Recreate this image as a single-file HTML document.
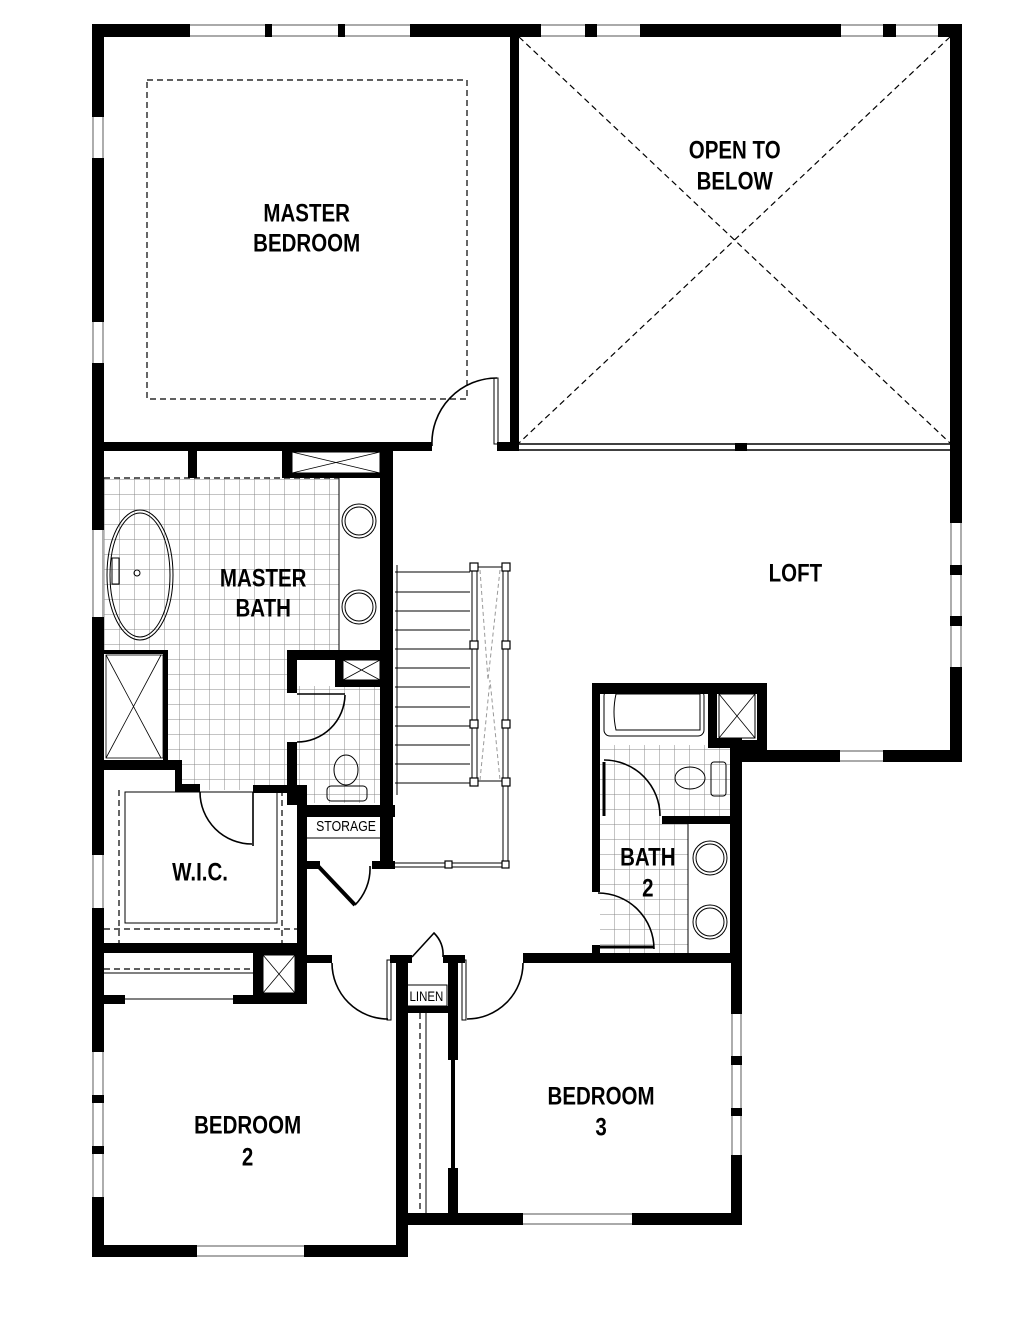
<!DOCTYPE html>
<html><head><meta charset="utf-8"><style>
html,body{margin:0;padding:0;background:#fff}
svg{display:block}
text{font-family:"Liberation Sans",sans-serif;fill:#000;text-anchor:middle;dominant-baseline:central}
</style></head><body>
<svg width="1028" height="1320" viewBox="0 0 1028 1320" xmlns="http://www.w3.org/2000/svg">
<defs>
<pattern id="tile" width="15" height="15" patternUnits="userSpaceOnUse">
<path d="M15 0V15M0 15H15" stroke="#888" stroke-width="1" fill="none"/>
</pattern>
</defs>
<polygon points="104,478 339,478 339,650 287,650 287,693 297,693 297,742 287,742 287,790 200,790 180,790 180,770 168,770 168,652 104,652" fill="url(#tile)"/>
<rect x="297" y="686" width="83" height="117" fill="url(#tile)"/>
<rect x="600" y="745" width="130" height="208" fill="url(#tile)"/>
<rect x="688" y="824" width="42" height="129" fill="#fff"/>

<g stroke="#777" stroke-width="1.2" fill="none">
<line x1="92" y1="25" x2="962" y2="25"/><line x1="92" y1="36" x2="962" y2="36"/>
<line x1="93" y1="24" x2="93" y2="1257"/><line x1="103" y1="24" x2="103" y2="1257"/>
<line x1="951" y1="24" x2="951" y2="762"/><line x1="961" y1="24" x2="961" y2="762"/>
<line x1="742" y1="751" x2="962" y2="751"/><line x1="742" y1="761" x2="962" y2="761"/>
<line x1="732" y1="750" x2="732" y2="1225"/><line x1="741" y1="750" x2="741" y2="1225"/>
<line x1="396" y1="1214" x2="742" y2="1214"/><line x1="396" y1="1224" x2="742" y2="1224"/>
<line x1="92" y1="1246" x2="408" y2="1246"/><line x1="92" y1="1256" x2="408" y2="1256"/>
</g>

<g fill="#000">
<rect x="92" y="24" width="98" height="13"/><rect x="265" y="24" width="7" height="13"/>
<rect x="338" y="24" width="7" height="13"/><rect x="410" y="24" width="131" height="13"/>
<rect x="585" y="24" width="12" height="13"/><rect x="640" y="24" width="201" height="13"/>
<rect x="883" y="24" width="13" height="13"/><rect x="938" y="24" width="24" height="13"/>
<rect x="92" y="24" width="12" height="93"/><rect x="92" y="158" width="12" height="164"/>
<rect x="92" y="363" width="12" height="167"/><rect x="92" y="617" width="12" height="238"/>
<rect x="92" y="908" width="12" height="144"/><rect x="92" y="1095" width="12" height="8"/>
<rect x="92" y="1146" width="12" height="8"/><rect x="92" y="1197" width="12" height="60"/>
<rect x="950" y="24" width="12" height="499"/><rect x="950" y="565" width="12" height="10"/>
<rect x="950" y="616" width="12" height="10"/><rect x="950" y="667" width="12" height="95"/>
<rect x="742" y="750" width="98" height="12"/><rect x="883" y="750" width="79" height="12"/>
<rect x="510" y="37" width="9" height="413"/>
<rect x="92" y="442" width="340" height="9"/><rect x="497" y="442" width="22" height="9"/>
<rect x="188" y="450" width="9" height="28"/>
<rect x="282" y="443" width="111" height="35"/>
<rect x="380" y="443" width="13" height="424"/>
<rect x="163" y="652" width="5" height="108"/><rect x="104" y="650" width="64" height="4"/>
<rect x="92" y="760" width="88" height="10"/><rect x="175" y="760" width="7" height="32"/>
<rect x="175" y="784" width="25" height="8"/><rect x="253" y="785" width="54" height="8"/>
<rect x="297" y="785" width="10" height="219"/>
<rect x="287" y="650" width="10" height="43"/><rect x="287" y="650" width="106" height="10"/>
<rect x="335" y="655" width="8" height="31"/><rect x="335" y="680" width="58" height="7"/>
<rect x="287" y="742" width="10" height="63"/>
<rect x="297" y="805" width="98" height="12"/>
<rect x="307" y="861" width="13" height="8"/><rect x="372" y="861" width="23" height="8"/>
<rect x="92" y="943" width="215" height="10"/>
<rect x="253" y="953" width="44" height="42" />
<rect x="104" y="995" width="21" height="9"/><rect x="233" y="995" width="74" height="9"/>
<rect x="307" y="955" width="25" height="8"/><rect x="390" y="955" width="22" height="8"/>
<rect x="443" y="955" width="22" height="8"/><rect x="523" y="953" width="219" height="10"/>
<rect x="396" y="957" width="12" height="300"/>
<rect x="408" y="1006" width="40" height="7"/>
<rect x="448" y="963" width="10" height="97"/><rect x="451" y="1060" width="4" height="108"/>
<rect x="448" y="1168" width="10" height="45"/>
<rect x="396" y="1213" width="127" height="12"/><rect x="632" y="1213" width="110" height="12"/>
<rect x="92" y="1245" width="105" height="12"/><rect x="304" y="1245" width="104" height="12"/>
<rect x="731" y="750" width="11" height="264"/><rect x="731" y="1056" width="11" height="9"/>
<rect x="731" y="1108" width="11" height="8"/><rect x="731" y="1155" width="11" height="70"/>
<rect x="592" y="683" width="8" height="209"/><rect x="592" y="945" width="8" height="18"/>
<rect x="592" y="683" width="175" height="11"/><rect x="757" y="683" width="10" height="67"/>
<rect x="708" y="694" width="9" height="46"/><rect x="708" y="738" width="34" height="10"/>
<rect x="730" y="738" width="12" height="225"/><rect x="662" y="816" width="68" height="8"/>
<rect x="742" y="740" width="25" height="10"/>
</g>

<g fill="#fff" stroke="#000" stroke-width="1">
<rect x="292" y="452" width="88" height="21"/>
<rect x="343" y="660" width="37" height="20"/>
<rect x="263" y="955" width="32" height="38"/>
<rect x="719" y="694" width="36" height="44"/>
</g>
<g stroke="#000" stroke-width="0.8" fill="none">
<path d="M292 452L380 473M292 473L380 452"/>
<path d="M343 660L380 680M343 680L380 660"/>
<path d="M263 955L295 993M263 993L295 955"/>
<path d="M719 694L755 738M719 738L755 694"/>
<path d="M106 655L161 758M106 758L161 655"/>
<rect x="106" y="655" width="57" height="103"/>
</g>

<g fill="none" stroke="#000" stroke-width="1.2" stroke-dasharray="6,4">
<rect x="147" y="80" width="320" height="319"/>
<line x1="519" y1="37" x2="950" y2="443"/><line x1="950" y1="37" x2="519" y2="443"/>
<line x1="104" y1="478" x2="339" y2="478"/>
<line x1="420" y1="1013" x2="420" y2="1213"/>
<line x1="119" y1="790" x2="119" y2="943"/><line x1="282" y1="790" x2="282" y2="943"/>
<line x1="104" y1="929" x2="297" y2="929"/>
<line x1="104" y1="969" x2="253" y2="969"/>
</g>
<g stroke="#000" fill="none" stroke-width="1.5">
<line x1="519" y1="444" x2="950" y2="444"/><line x1="519" y1="450" x2="950" y2="450"/>
</g>
<rect x="735" y="443" width="12" height="8" fill="#000"/>

<g stroke="#000" stroke-width="1" fill="none">
<line x1="339" y1="478" x2="339" y2="650"/>
<line x1="104" y1="973" x2="253" y2="973"/>
<line x1="125" y1="999" x2="233" y2="999"/>
<rect x="125" y="792" width="152" height="131"/>
<line x1="426" y1="1013" x2="426" y2="1213"/>
<rect x="406" y="985" width="41" height="21"/>
<line x1="307" y1="838" x2="380" y2="838"/>
<line x1="688" y1="824" x2="688" y2="953"/>
<ellipse cx="140" cy="575" rx="33" ry="65"/><ellipse cx="140" cy="575" rx="30" ry="62"/>
<rect x="112" y="558" width="7" height="26"/><circle cx="137" cy="573" r="3"/>
<circle cx="359" cy="521" r="17"/><circle cx="359" cy="521" r="14"/>
<circle cx="359" cy="607" r="17"/><circle cx="359" cy="607" r="14"/>
<circle cx="710" cy="858" r="17"/><circle cx="710" cy="858" r="14"/>
<circle cx="710" cy="922" r="17"/><circle cx="710" cy="922" r="14"/>
<ellipse cx="346" cy="770" rx="12" ry="15"/><rect x="327" y="786" width="40" height="15" rx="4"/>
<ellipse cx="690" cy="778" rx="15" ry="11"/><rect x="711" y="762" width="15" height="34" rx="3"/>
<rect x="604" y="690" width="100" height="46" rx="6"/>
<path d="M616 694H700V730H616Q612 712 616 694Z"/>
<line x1="397" y1="565" x2="397" y2="795"/>
<line x1="395" y1="572" x2="470" y2="572"/><line x1="395" y1="592" x2="470" y2="592"/>
<line x1="395" y1="611" x2="470" y2="611"/><line x1="395" y1="630" x2="470" y2="630"/>
<line x1="395" y1="649" x2="470" y2="649"/><line x1="395" y1="668" x2="470" y2="668"/>
<line x1="395" y1="687" x2="470" y2="687"/><line x1="395" y1="707" x2="470" y2="707"/>
<line x1="395" y1="726" x2="470" y2="726"/><line x1="395" y1="745" x2="470" y2="745"/>
<line x1="395" y1="764" x2="470" y2="764"/><line x1="395" y1="783" x2="470" y2="783"/>
<line x1="472" y1="565" x2="472" y2="783"/><line x1="477" y1="565" x2="477" y2="783"/>
<line x1="503" y1="565" x2="503" y2="866"/><line x1="508" y1="565" x2="508" y2="866"/>
<line x1="472" y1="567" x2="508" y2="567"/><line x1="472" y1="781" x2="508" y2="781"/>
<line x1="395" y1="863" x2="508" y2="863"/><line x1="395" y1="867" x2="508" y2="867"/>
<path d="M480 570L488 680L500 570M480 780L490 680L500 780" stroke="#999" stroke-dasharray="4,3"/>
</g>
<g fill="#fff" stroke="#000" stroke-width="1.2">
<rect x="470" y="563" width="8" height="8"/><rect x="502" y="563" width="8" height="8"/>
<rect x="470" y="641" width="8" height="8"/><rect x="502" y="641" width="8" height="8"/>
<rect x="470" y="720" width="8" height="8"/><rect x="502" y="720" width="8" height="8"/>
<rect x="470" y="778" width="8" height="8"/><rect x="502" y="778" width="8" height="8"/>
<rect x="445" y="861" width="7" height="7"/><rect x="502" y="861" width="7" height="7"/>
</g>

<g stroke="#000" stroke-width="1.6" fill="none">
<path d="M432 446A65 65 0 0 1 497 378"/><rect x="494" y="378" width="4" height="66" stroke-width="1"/>
<path d="M345 695A48 48 0 0 1 297 742"/><line x1="297" y1="694" x2="345" y2="694"/>
<path d="M200 792A52 52 0 0 0 252 844"/><line x1="253" y1="792" x2="253" y2="846"/>
<path d="M318 866L355 905" stroke-width="4"/><path d="M355 905A52 52 0 0 0 370 866"/>
<path d="M332 963A56 56 0 0 0 388 1019"/><rect x="387" y="960" width="4" height="60" stroke-width="1"/>
<path d="M523 963A56 56 0 0 1 467 1019"/><rect x="462" y="960" width="4" height="60" stroke-width="1"/>
<path d="M412 957L434 933Q444 943 443 957"/>
<path d="M604 760A56 56 0 0 1 660 816"/><line x1="604" y1="762" x2="604" y2="816" stroke-width="3"/>
<path d="M598 893A56 56 0 0 1 654 949"/><line x1="600" y1="947" x2="654" y2="947" stroke-width="3"/>
</g>

<g transform="scale(0.82,1)" font-size="25" font-weight="bold">
<text x="374" y="213">MASTER</text><text x="374" y="243">BEDROOM</text>
<text x="896" y="150">OPEN TO</text><text x="896" y="181">BELOW</text>
<text x="321" y="578">MASTER</text><text x="321" y="608">BATH</text>
<text x="970" y="573">LOFT</text>
<text x="244" y="872">W.I.C.</text>
<text x="790" y="857">BATH</text><text x="790" y="888">2</text>
<text x="302" y="1125">BEDROOM</text><text x="302" y="1157">2</text>
<text x="733" y="1096">BEDROOM</text><text x="733" y="1127">3</text>
</g>
<g transform="scale(0.82,1)">
<text x="422" y="826" font-size="15">STORAGE</text>
<text x="520" y="996" font-size="14">LINEN</text>
</g>
</svg>
</body></html>
